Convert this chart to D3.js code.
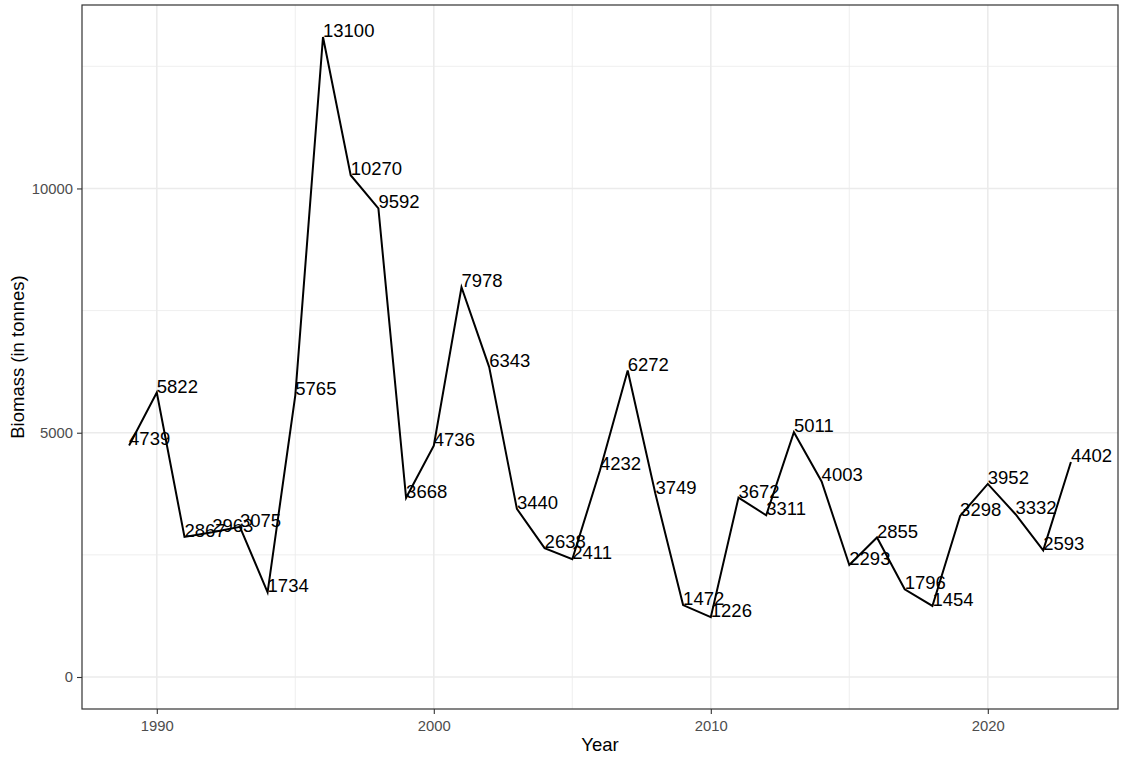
<!DOCTYPE html>
<html>
<head>
<meta charset="utf-8">
<script src="https://cdn.jsdelivr.net/npm/d3@7"></script>
<style>
html,body{margin:0;padding:0;background:#fff;}
svg{display:block;font-family:"Liberation Sans",Arial,Helvetica,sans-serif;}
</style>
</head>
<body>
<svg id="chart" width="1121" height="758"></svg>
<script>
const years = [1989,1990,1991,1992,1993,1994,1995,1996,1997,1998,1999,2000,2001,2002,2003,2004,2005,2006,2007,2008,2009,2010,2011,2012,2013,2014,2015,2016,2017,2018,2019,2020,2021,2022,2023];
const biomass = [4739,5822,2867,2963,3075,1734,5765,13100,10270,9592,3668,4736,7978,6343,3440,2638,2411,4232,6272,3749,1472,1226,3672,3311,5011,4003,2293,2855,1796,1454,3298,3952,3332,2593,4402];
const xTicks = [1990,2000,2010,2020];
const xMinor = [1995,2005,2015];
const yTicks = [0,5000,10000];
const yMinor = [2500,7500,12500];
const xTitle = "Year";
const yTitle = "Biomass (in tonnes)";

const data = years.map((y,i)=>({year:y,value:biomass[i]}));
const svg = d3.select("#chart");
const P = {left:82, right:1118, top:5, bottom:709};

const xr = d3.extent(years), xe = (xr[1]-xr[0])*0.05;
const x = d3.scaleLinear().domain([xr[0]-xe, xr[1]+xe]).range([P.left, P.right]);
const yMax = d3.max(biomass), ye = yMax*0.05;
const y = d3.scaleLinear().domain([-ye, yMax+ye]).range([P.bottom, P.top]);

svg.append("rect").attr("x",P.left).attr("y",P.top).attr("width",P.right-P.left).attr("height",P.bottom-P.top).attr("fill","#fff");

const g = svg.append("g");
g.selectAll(".yminor").data(yMinor).join("line").attr("x1",P.left).attr("x2",P.right).attr("y1",d=>y(d)).attr("y2",d=>y(d)).attr("stroke","#EBEBEB").attr("stroke-width",0.8);
g.selectAll(".xminor").data(xMinor).join("line").attr("y1",P.top).attr("y2",P.bottom).attr("x1",d=>x(d)).attr("x2",d=>x(d)).attr("stroke","#EBEBEB").attr("stroke-width",0.8);
g.selectAll(".ymajor").data(yTicks).join("line").attr("x1",P.left).attr("x2",P.right).attr("y1",d=>y(d)).attr("y2",d=>y(d)).attr("stroke","#EBEBEB").attr("stroke-width",1.6);
g.selectAll(".xmajor").data(xTicks).join("line").attr("y1",P.top).attr("y2",P.bottom).attr("x1",d=>x(d)).attr("x2",d=>x(d)).attr("stroke","#EBEBEB").attr("stroke-width",1.6);

const line = d3.line().x(d=>x(d.year)).y(d=>y(d.value));
svg.append("path").datum(data).attr("d",line).attr("fill","none").attr("stroke","#000").attr("stroke-width",2).attr("stroke-linejoin","miter");

svg.append("g").selectAll("text").data(data).join("text")
  .attr("x",d=>x(d.year)).attr("y",d=>y(d.value))
  .attr("text-anchor","start")
  .attr("font-size",18.5)
  .attr("fill","#000")
  .text(d=>d.value);

svg.append("rect").attr("x",P.left).attr("y",P.top).attr("width",P.right-P.left).attr("height",P.bottom-P.top).attr("fill","none").attr("stroke","#333").attr("stroke-width",1.2);

const xAxis = d3.axisBottom(x).tickValues(xTicks).tickFormat(d3.format("d")).tickSize(5).tickPadding(6);
const gx = svg.append("g").attr("transform",`translate(0,${P.bottom})`).call(xAxis);
const yAxis = d3.axisLeft(y).tickValues(yTicks).tickFormat(d=>String(d)).tickSize(5).tickPadding(4);
const gy = svg.append("g").attr("transform",`translate(${P.left},0)`).call(yAxis);
[gx,gy].forEach(a=>{
  a.select(".domain").remove();
  a.selectAll(".tick line").attr("stroke","#333").attr("stroke-width",1.1);
  a.selectAll(".tick text").attr("fill","#4D4D4D").attr("font-size",14.8).attr("font-family","Liberation Sans, Arial, sans-serif");
});

svg.append("text").attr("x",(P.left+P.right)/2).attr("y",751).attr("text-anchor","middle").attr("font-size",18.5).attr("fill","#000").text(xTitle);
svg.append("text").attr("transform",`translate(24,${(P.top+P.bottom)/2}) rotate(-90)`).attr("text-anchor","middle").attr("font-size",18.5).attr("fill","#000").text(yTitle);
</script>
</body>
</html>
